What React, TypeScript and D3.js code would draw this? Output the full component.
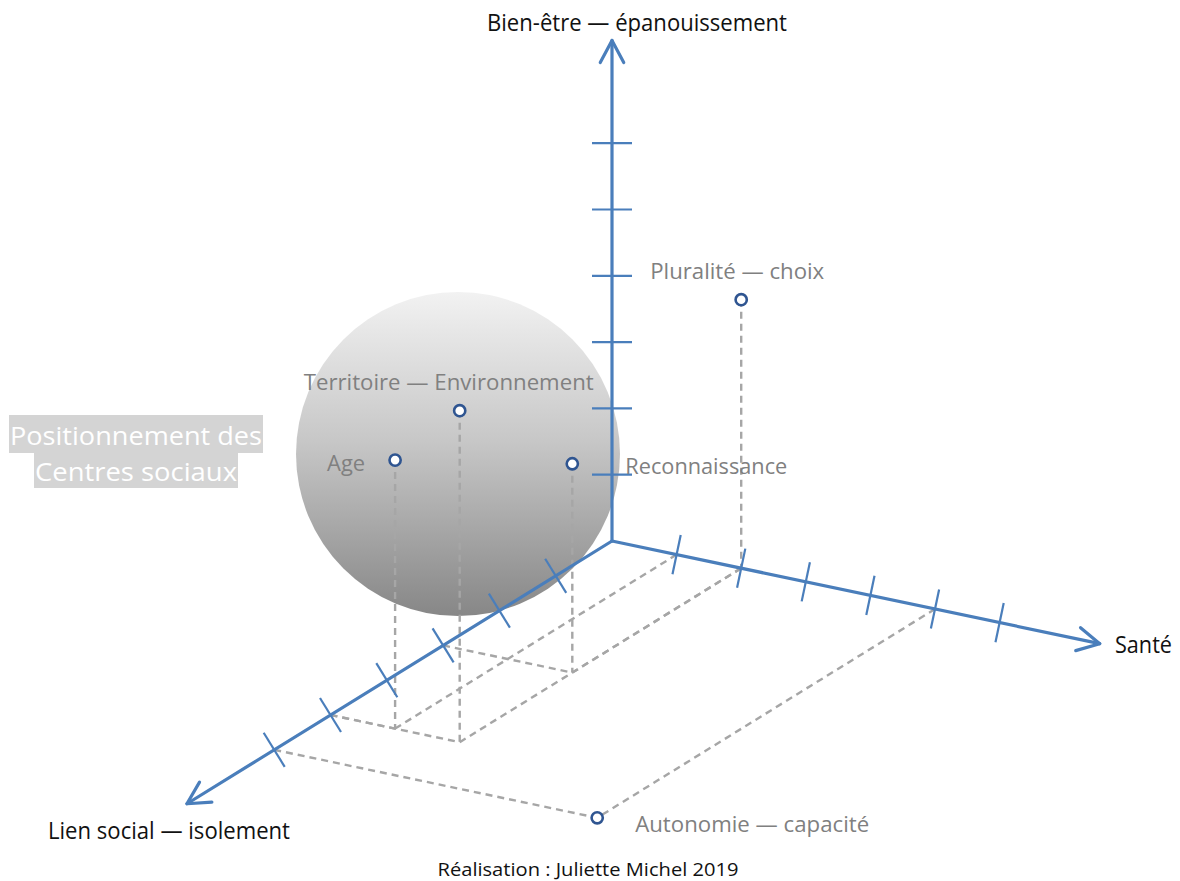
import * as d3 from 'd3';

// axes: santé (right), lien social (front-left), bien-être (up)
const tickValues = [1, 2, 3, 4, 5, 6];
const axisMax = 7.55;

const pointNames = ['Pluralité — choix', 'Territoire — Environnement', 'Age', 'Reconnaissance', 'Autonomie — capacité'];
const santeValues = [2, 2, 1, 2, 5];
const lienValues = [0, 5, 5, 3, 6];
const bienEtreValues = [4.05, 5.0, 4.05, 3.15, 0];

const axisTitles = ['Bien-être — épanouissement', 'Santé', 'Lien social — isolement'];
const boxTitle = ['Positionnement des', 'Centres sociaux'];
const credit = 'Réalisation : Juliette Michel 2019';

const W = 1180;
const H = 881;
const ORIGIN = { x: 612, y: 541 };
const BLUE = '#4a7ebb';
const DASH = '#a6a6a6';
const LABEL = '#808080';
const FONT = '"Open Sans", "Noto Sans", sans-serif';

// label placement per point: offset from marker, anchor, rendered width
const labelLayout = [
  { dx: -4, dy: -21, anchor: 'middle', w: 174 },
  { dx: -11, dy: -21, anchor: 'middle', w: 290 },
  { dx: -30, dy: 11, anchor: 'end', w: 38 },
  { dx: 53, dy: 10, anchor: 'start', w: 162 },
  { dx: 38, dy: 14, anchor: 'start', w: 234 },
];

export default function App() {
  const santeX = d3.scaleLinear().domain([0, 1]).range([0, 64.6]);
  const santeY = d3.scaleLinear().domain([0, 1]).range([0, 13.6]);
  const lienX = d3.scaleLinear().domain([0, 1]).range([0, -56.3]);
  const lienY = d3.scaleLinear().domain([0, 1]).range([0, 34.8]);
  const bienY = d3.scaleLinear().domain([0, 1]).range([0, -66.3]);

  const project = (s: number, l: number, b: number): [number, number] => [
    ORIGIN.x + santeX(s) + lienX(l),
    ORIGIN.y + santeY(s) + lienY(l) + bienY(b),
  ];

  const line = d3.line();

  const axes = [
    { end: project(0, 0, axisMax), at: (v: number) => project(0, 0, v) },
    { end: project(axisMax, 0, 0), at: (v: number) => project(v, 0, 0) },
    { end: project(0, axisMax, 0), at: (v: number) => project(0, v, 0) },
  ];

  const arrowHead = (end: [number, number]) => {
    const dx = end[0] - ORIGIN.x;
    const dy = end[1] - ORIGIN.y;
    const len = Math.hypot(dx, dy);
    const ux = dx / len;
    const uy = dy / len;
    const a = (28 * Math.PI) / 180;
    const L = 25;
    const arm = (sign: number): [number, number] => {
      const c = Math.cos(sign * a);
      const s = Math.sin(sign * a);
      const rx = -(ux * c - uy * s);
      const ry = -(ux * s + uy * c);
      return [end[0] + rx * L, end[1] + ry * L];
    };
    return line([arm(1), end, arm(-1)]) as string;
  };

  const tick = (p: [number, number], end: [number, number]) => {
    const dx = end[0] - ORIGIN.x;
    const dy = end[1] - ORIGIN.y;
    const len = Math.hypot(dx, dy);
    const px = (-dy / len) * 20;
    const py = (dx / len) * 20;
    return line([[p[0] - px, p[1] - py], [p[0] + px, p[1] + py]]) as string;
  };

  const dashed: string[] = [];
  pointNames.forEach((_, i) => {
    const s = santeValues[i];
    const l = lienValues[i];
    const b = bienEtreValues[i];
    if (b > 0) dashed.push(line([project(s, l, b), project(s, l, 0)]) as string);
    if (l > 0 && s > 0) {
      dashed.push(line([project(0, l, 0), project(s, l, 0)]) as string);
      dashed.push(line([project(s, 0, 0), project(s, l, 0)]) as string);
    }
  });

  return (
    <svg width={W} height={H} style={{ position: 'absolute', left: 0, top: 0, background: '#fff' }}>
      <defs>
        <linearGradient id="sphere" x1="0" y1="0" x2="0" y2="1">
          <stop offset="0%" stopColor="#f2f2f2" />
          <stop offset="45%" stopColor="#c8c8c8" />
          <stop offset="100%" stopColor="#878787" />
        </linearGradient>
      </defs>

      <circle cx={458} cy={454} r={162} fill="url(#sphere)" />

      {dashed.map((d, i) => (
        <path key={'d' + i} d={d} fill="none" stroke={DASH} strokeWidth={2.4} strokeDasharray="7 5" />
      ))}

      {axes.map((ax, i) => (
        <g key={'ax' + i} stroke={BLUE} fill="none" strokeLinecap="round">
          <path d={line([[ORIGIN.x, ORIGIN.y], ax.end]) as string} strokeWidth={3.2} strokeLinejoin="round" />
          <path d={arrowHead(ax.end)} strokeWidth={3.2} strokeLinejoin="round" />
          {tickValues.map((v) => (
            <path key={v} d={tick(ax.at(v), ax.end)} strokeWidth={2.2} strokeLinecap="butt" />
          ))}
        </g>
      ))}

      {pointNames.map((name, i) => {
        const [x, y] = project(santeValues[i], lienValues[i], bienEtreValues[i]);
        const lay = labelLayout[i];
        return (
          <g key={name}>
            <circle cx={x} cy={y} r={5.6} fill="#fff" stroke="#2f5591" strokeWidth={2.6} />
            <text
              x={x + lay.dx}
              y={y + lay.dy}
              textAnchor={lay.anchor}
              fontFamily={FONT}
              fontSize={22}
              fill={LABEL}
              textLength={lay.w}
              lengthAdjust="spacingAndGlyphs"
            >
              {name}
            </text>
          </g>
        );
      })}

      <text x={637} y={31} textAnchor="middle" fontFamily={FONT} fontSize={23} fill="#111" textLength={300} lengthAdjust="spacingAndGlyphs">
        {axisTitles[0]}
      </text>
      <text x={1115} y={653} fontFamily={FONT} fontSize={23} fill="#111" textLength={57} lengthAdjust="spacingAndGlyphs">
        {axisTitles[1]}
      </text>
      <text x={48} y={839} fontFamily={FONT} fontSize={23} fill="#111" textLength={242} lengthAdjust="spacingAndGlyphs">
        {axisTitles[2]}
      </text>

      <rect x={9} y={415} width={254} height={38} fill="#d4d4d4" />
      <rect x={34} y={452} width={204} height={36} fill="#d4d4d4" />
      <text x={136} y={445} textAnchor="middle" fontFamily={FONT} fontSize={26} fill="#fff" textLength={252} lengthAdjust="spacingAndGlyphs">
        {boxTitle[0]}
      </text>
      <text x={136} y={481} textAnchor="middle" fontFamily={FONT} fontSize={26} fill="#fff" textLength={202} lengthAdjust="spacingAndGlyphs">
        {boxTitle[1]}
      </text>

      <text x={588} y={876} textAnchor="middle" fontFamily={FONT} fontSize={19} fill="#111" textLength={301} lengthAdjust="spacingAndGlyphs">
        {credit}
      </text>
    </svg>
  );
}
